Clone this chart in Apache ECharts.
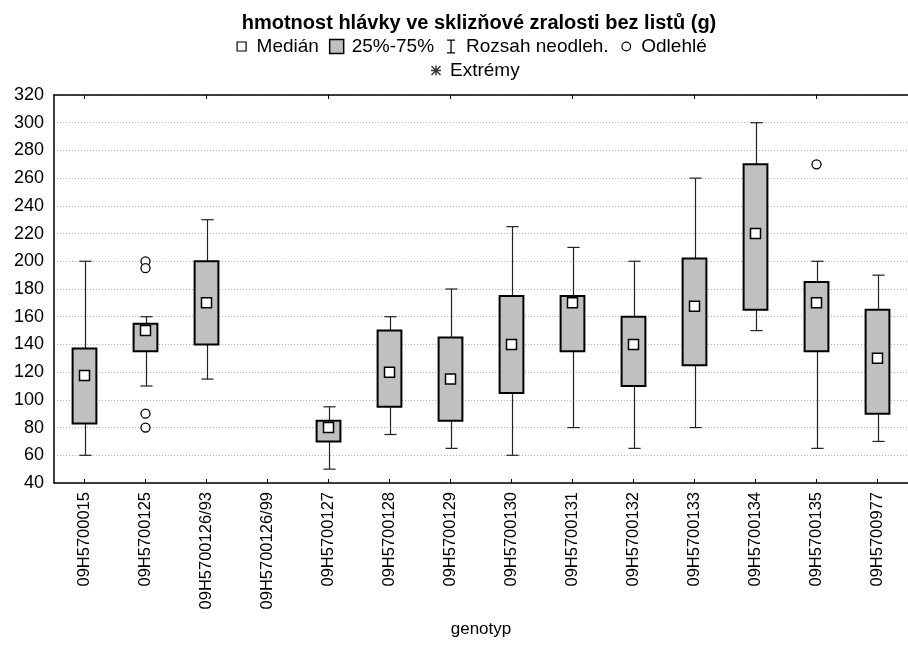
<!DOCTYPE html>
<html>
<head>
<meta charset="utf-8">
<script src="https://cdn.jsdelivr.net/npm/echarts@6/dist/echarts.min.js"></script>
<style>
  html, body { margin: 0; padding: 0; background: #fff; }
  #chart { width: 908px; height: 661px; }
</style>
</head>
<body>
<div id="chart"></div>
<script>
// Genotypes on the category axis
const genotypes = [
  '09H5700015', '09H5700125', '09H5700126/93', '09H5700126/99', '09H5700127',
  '09H5700128', '09H5700129', '09H5700130', '09H5700131', '09H5700132',
  '09H5700133', '09H5700134', '09H5700135', '09H5700977'
];
// Non-outlier range (whisker ends)
const whiskerLow  = [60, 110, 115, null, 50, 75, 65, 60, 80, 65, 80, 150, 65, 70];
const whiskerHigh = [200, 160, 230, null, 95, 160, 180, 225, 210, 200, 260, 300, 200, 190];
// Quartiles (box edges)
const quartile1 = [83, 135, 140, null, 70, 95, 85, 105, 135, 110, 125, 165, 135, 90];
const quartile3 = [137, 155, 200, null, 85, 150, 145, 175, 175, 160, 202, 270, 185, 165];
// Medians
const medians = [117.5, 150, 170, null, 80, 120, 115, 140, 170, 140, 167.5, 220, 170, 130];
// Outliers: [genotype, value]
const outliers = [
  ['09H5700125', 200], ['09H5700125', 195], ['09H5700125', 90], ['09H5700125', 80],
  ['09H5700135', 270]
];
// Extremes (none)
const extremes = [];
// Y axis ticks
const yMin = 40, yMax = 320, yStep = 20;

const FONT = '"Liberation Sans", Arial, sans-serif';

// Legend / symbol shapes (the leading M points fix the icon's bounding box)
const ICON_MEDIAN = 'path://M0,0M14,14M2.5,2.5h9v9h-9z';
const ICON_RANGE = 'path://M0,0M14,14M3,0h8v1.3h-8z M6.35,0h1.3v14h-1.3z M3,12.7h8v1.3h-8z';
const ICON_OUTLIER = 'path://M0,0M14,14M11.3,7A4.3,4.3,0,1,1,2.7,7A4.3,4.3,0,1,1,11.3,7z';
const STAR = 'M6.3,2h1.4v10h-1.4z M2,6.3h10v1.4h-10z M3,2L12,11L11,12L2,3z M11,2L12,3L3,12L2,11z';
const ICON_EXTREME = 'path://M0,0M14,14' + STAR;

const whiskerData = [];
const boxData = [];
const medianData = [];
genotypes.forEach((g, i) => {
  if (whiskerLow[i] != null) whiskerData.push([i, whiskerLow[i], quartile1[i], quartile3[i], whiskerHigh[i]]);
  if (quartile1[i] != null) boxData.push([i, quartile1[i], quartile3[i]]);
  if (medians[i] != null) medianData.push([g, medians[i]]);
});

function renderWhisker(params, api) {
  const i = api.value(0);
  const band = api.size([1, 0])[0];
  const capHalf = band * 0.1;
  const pLow = api.coord([i, api.value(1)]);
  const pQ1 = api.coord([i, api.value(2)]);
  const pQ3 = api.coord([i, api.value(3)]);
  const pHigh = api.coord([i, api.value(4)]);
  const x = Math.round(pLow[0]) + 0.5;
  const style = { stroke: '#222', lineWidth: 1.2, fill: null };
  return {
    type: 'group',
    children: [
      { type: 'line', shape: { x1: x, y1: pLow[1], x2: x, y2: pQ1[1] }, style },
      { type: 'line', shape: { x1: x, y1: pQ3[1], x2: x, y2: pHigh[1] }, style },
      { type: 'line', shape: { x1: x - capHalf, y1: pLow[1], x2: x + capHalf, y2: pLow[1] }, style },
      { type: 'line', shape: { x1: x - capHalf, y1: pHigh[1], x2: x + capHalf, y2: pHigh[1] }, style }
    ]
  };
}

function renderBox(params, api) {
  const i = api.value(0);
  const band = api.size([1, 0])[0];
  const w = band * 0.39;
  const pQ1 = api.coord([i, api.value(1)]);
  const pQ3 = api.coord([i, api.value(2)]);
  return {
    type: 'rect',
    shape: { x: pQ1[0] - w / 2, y: pQ3[1], width: w, height: pQ1[1] - pQ3[1] },
    style: { fill: '#c0c0c0', stroke: '#000', lineWidth: 2 }
  };
}

const chart = echarts.init(document.getElementById('chart'), null, { renderer: 'canvas' });

chart.setOption({
  backgroundColor: '#fff',
  animation: false,
  textStyle: { fontFamily: FONT, color: '#000' },
  title: {
    text: 'hmotnost hlávky ve sklizňové zralosti bez listů (g)',
    left: 474,
    textAlign: 'center',
    top: 8,
    textStyle: { fontFamily: FONT, fontSize: 20, fontWeight: 'bold', color: '#000' }
  },
  legend: [
    {
      left: 229,
      top: 32,
      itemWidth: 14,
      itemHeight: 14,
      itemGap: 10,
      selectedMode: false,
      textStyle: { fontFamily: FONT, fontSize: 19, color: '#000', padding: [0, 0, 0, 3] },
      data: [
        { name: 'Medián', icon: ICON_MEDIAN, itemStyle: { color: '#fff', borderColor: '#000', borderWidth: 1.2 } },
        { name: '25%-75%', icon: 'rect', itemStyle: { color: '#c0c0c0', borderColor: '#000', borderWidth: 1.5 } },
        { name: 'Rozsah neodleh.', icon: ICON_RANGE, itemStyle: { color: '#000', borderWidth: 0 } },
        { name: 'Odlehlé', icon: ICON_OUTLIER, itemStyle: { color: '#fff', borderColor: '#000', borderWidth: 1.2 } }
      ]
    },
    {
      left: 424,
      top: 56,
      itemWidth: 14,
      itemHeight: 14,
      selectedMode: false,
      textStyle: { fontFamily: FONT, fontSize: 19, color: '#000', padding: [0, 0, 0, 2] },
      data: [
        { name: 'Extrémy', icon: ICON_EXTREME, itemStyle: { color: '#000', borderWidth: 0 } }
      ]
    }
  ],
  grid: { left: 54, top: 95, width: 865, height: 388, containLabel: false },
  xAxis: [
    {
      type: 'category',
      data: genotypes,
      position: 'bottom',
      name: 'genotyp',
      nameLocation: 'middle',
      nameGap: 138,
      nameTextStyle: { fontFamily: FONT, fontSize: 17, color: '#000' },
      axisLine: { show: true, lineStyle: { color: '#000', width: 1.5 } },
      axisTick: { show: true, inside: true, length: 4, alignWithLabel: true, lineStyle: { color: '#000' } },
      axisLabel: { rotate: 90, interval: 0, margin: 9, fontFamily: FONT, fontSize: 16.5, color: '#000' },
      splitLine: { show: false }
    },
    {
      type: 'category',
      data: genotypes,
      position: 'top',
      axisLine: { show: true, lineStyle: { color: '#000', width: 1.5 } },
      axisTick: { show: true, inside: true, length: 4, alignWithLabel: true, lineStyle: { color: '#000' } },
      axisLabel: { show: false },
      splitLine: { show: false }
    }
  ],
  yAxis: {
    type: 'value',
    min: yMin,
    max: yMax,
    interval: yStep,
    axisLine: { show: true, lineStyle: { color: '#000', width: 1.5 } },
    axisTick: { show: false },
    axisLabel: { margin: 10, fontFamily: FONT, fontSize: 18, color: '#000' },
    splitLine: { show: true, lineStyle: { color: '#b0b0b0', type: [1, 2], width: 1 } }
  },
  series: [
    {
      name: 'Rozsah neodleh.',
      type: 'custom',
      renderItem: renderWhisker,
      encode: { x: 0, y: [1, 2, 3, 4] },
      data: whiskerData,
      z: 2
    },
    {
      name: '25%-75%',
      type: 'custom',
      renderItem: renderBox,
      encode: { x: 0, y: [1, 2] },
      data: boxData,
      z: 3
    },
    {
      name: 'Medián',
      type: 'scatter',
      symbol: 'rect',
      symbolSize: 10,
      itemStyle: { color: '#fff', borderColor: '#000', borderWidth: 1.5, opacity: 1 },
      data: medianData,
      z: 4
    },
    {
      name: 'Odlehlé',
      type: 'scatter',
      symbol: 'circle',
      symbolSize: 9,
      itemStyle: { color: '#fff', borderColor: '#000', borderWidth: 1.3, opacity: 1 },
      data: outliers,
      z: 4
    },
    {
      name: 'Extrémy',
      type: 'scatter',
      symbol: 'path://' + STAR,
      symbolSize: 10,
      itemStyle: { color: '#000' },
      data: extremes,
      z: 4
    }
  ]
});
</script>
</body>
</html>
